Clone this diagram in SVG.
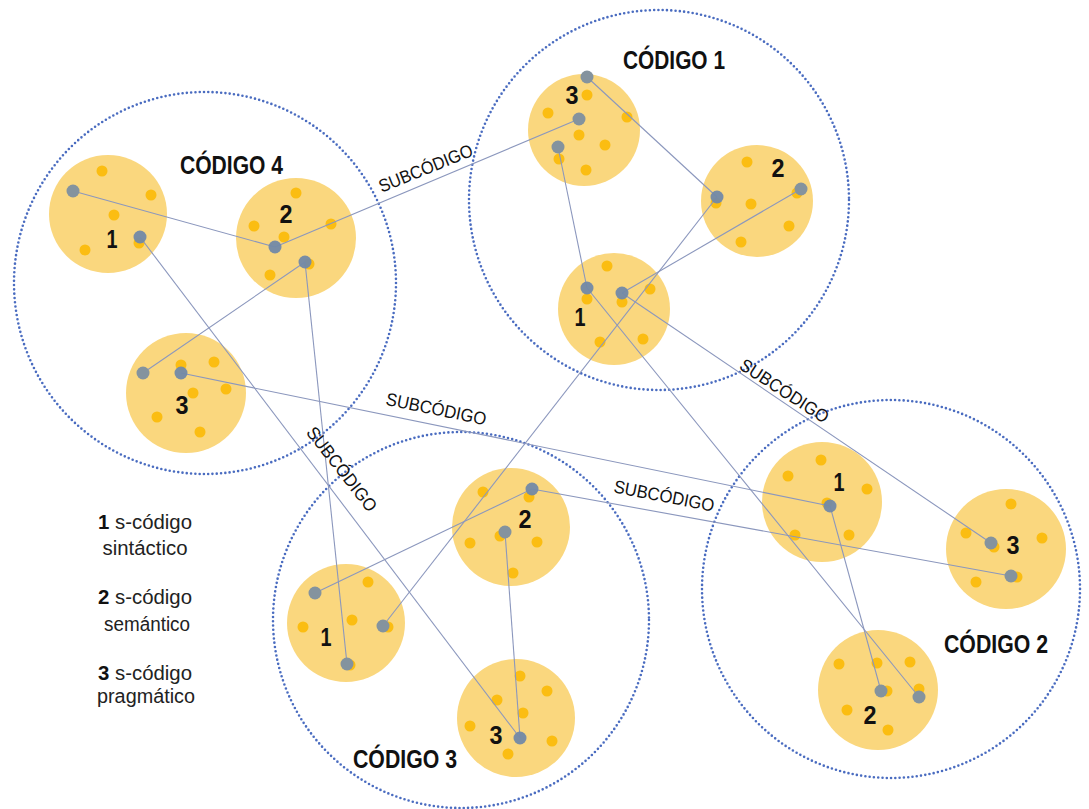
<svg xmlns="http://www.w3.org/2000/svg" width="1089" height="809" viewBox="0 0 1089 809">
<style>
.code{fill:none;stroke:#4a6cc0;stroke-width:2.6;stroke-dasharray:0 4.3;stroke-linecap:round}
.blob{fill:#fad77e}
.y{fill:#fbbd12}
.g{fill:#7289a8;opacity:0.95}
.g2{fill:#84939e}
.ln{stroke:#8b97bd;stroke-width:1.1;fill:none}
.title{font-family:"Liberation Sans",Arial,sans-serif;font-weight:bold;font-size:25px;fill:#111}
.num{font-family:"Liberation Sans",Arial,sans-serif;font-weight:bold;font-size:26px;fill:#111;text-anchor:middle}
.sub{font-family:"Liberation Sans",Arial,sans-serif;font-size:18px;fill:#111;text-anchor:middle}
.leg{font-family:"Liberation Sans",Arial,sans-serif;font-size:20px;fill:#222;text-anchor:middle}
.legb{font-weight:bold;fill:#111}
</style>
<rect width="1089" height="809" fill="#fff"/>

<g id="codigo4">
<circle class="code" cx="205" cy="283" r="191"/>
<text class="title" x="180" y="174" textLength="103" lengthAdjust="spacingAndGlyphs">CÓDIGO 4</text>
<g id="c4-b1">
<circle class="blob" cx="108" cy="214" r="59"/>
<circle class="y" cx="102" cy="171" r="5.5"/><circle class="y" cx="151" cy="195" r="5.5"/><circle class="y" cx="114" cy="215" r="5.5"/><circle class="y" cx="85" cy="250" r="5.5"/><circle class="y" cx="139" cy="243" r="5.5"/>
<text class="num" x="112" y="248" textLength="11" lengthAdjust="spacingAndGlyphs">1</text>
</g>
<g id="c4-b2">
<circle class="blob" cx="296" cy="238" r="60"/>
<circle class="y" cx="296" cy="193" r="5.5"/><circle class="y" cx="254" cy="226" r="5.5"/><circle class="y" cx="331" cy="224" r="5.5"/><circle class="y" cx="284" cy="237" r="5.5"/><circle class="y" cx="270" cy="275" r="5.5"/><circle class="y" cx="309" cy="264" r="5.5"/>
<text class="num" x="286" y="223" textLength="13" lengthAdjust="spacingAndGlyphs">2</text>
</g>
<g id="c4-b3">
<circle class="blob" cx="186" cy="393" r="60"/>
<circle class="y" cx="214" cy="362" r="5.5"/><circle class="y" cx="181" cy="365" r="5.5"/><circle class="y" cx="226" cy="389" r="5.5"/><circle class="y" cx="193" cy="393" r="5.5"/><circle class="y" cx="157" cy="417" r="5.5"/><circle class="y" cx="200" cy="432" r="5.5"/>
<text class="num" x="182" y="414" textLength="13" lengthAdjust="spacingAndGlyphs">3</text>
</g>
</g>

<g id="codigo1">
<circle class="code" cx="659" cy="200" r="190"/>
<text class="title" x="623" y="69" textLength="102" lengthAdjust="spacingAndGlyphs">CÓDIGO 1</text>
<g id="c1-b3">
<circle class="blob" cx="584" cy="130" r="56"/>
<circle class="y" cx="587" cy="95" r="5.5"/><circle class="y" cx="548" cy="113" r="5.5"/><circle class="y" cx="627" cy="117" r="5.5"/><circle class="y" cx="579" cy="135" r="5.5"/><circle class="y" cx="605" cy="145" r="5.5"/><circle class="y" cx="559" cy="159" r="5.5"/><circle class="y" cx="586" cy="170" r="5.5"/>
<text class="num" x="572" y="104" textLength="13" lengthAdjust="spacingAndGlyphs">3</text>
</g>
<g id="c1-b2">
<circle class="blob" cx="757" cy="201" r="56"/>
<circle class="y" cx="747" cy="162" r="5.5"/><circle class="y" cx="716" cy="203" r="5.5"/><circle class="y" cx="751" cy="204" r="5.5"/><circle class="y" cx="797" cy="193" r="5.5"/><circle class="y" cx="789" cy="226" r="5.5"/><circle class="y" cx="741" cy="242" r="5.5"/>
<text class="num" x="778" y="177" textLength="13" lengthAdjust="spacingAndGlyphs">2</text>
</g>
<g id="c1-b1">
<circle class="blob" cx="614" cy="309" r="56"/>
<circle class="y" cx="607" cy="266" r="5.5"/><circle class="y" cx="650" cy="289" r="5.5"/><circle class="y" cx="587" cy="299" r="5.5"/><circle class="y" cx="622" cy="302" r="5.5"/><circle class="y" cx="600" cy="342" r="5.5"/><circle class="y" cx="643" cy="339" r="5.5"/>
<text class="num" x="580" y="326" textLength="11" lengthAdjust="spacingAndGlyphs">1</text>
</g>
</g>

<g id="codigo3">
<circle class="code" cx="461" cy="620" r="188"/>
<text class="title" x="353" y="768" textLength="104" lengthAdjust="spacingAndGlyphs">CÓDIGO 3</text>
<g id="c3-b2">
<circle class="blob" cx="511" cy="527" r="59"/>
<circle class="y" cx="483" cy="492" r="5.5"/><circle class="y" cx="529" cy="497" r="5.5"/><circle class="y" cx="470" cy="543" r="5.5"/><circle class="y" cx="500" cy="536" r="5.5"/><circle class="y" cx="537" cy="542" r="5.5"/><circle class="y" cx="513" cy="573" r="5.5"/>
<text class="num" x="525" y="528" textLength="13" lengthAdjust="spacingAndGlyphs">2</text>
</g>
<g id="c3-b1">
<circle class="blob" cx="346" cy="623" r="59"/>
<circle class="y" cx="368" cy="582" r="5.5"/><circle class="y" cx="303" cy="627" r="5.5"/><circle class="y" cx="352" cy="620" r="5.5"/><circle class="y" cx="388" cy="627" r="5.5"/><circle class="y" cx="350" cy="665" r="5.5"/>
<text class="num" x="326" y="646" textLength="11" lengthAdjust="spacingAndGlyphs">1</text>
</g>
<g id="c3-b3">
<circle class="blob" cx="516" cy="718" r="59"/>
<circle class="y" cx="520" cy="676" r="5.5"/><circle class="y" cx="547" cy="691" r="5.5"/><circle class="y" cx="497" cy="700" r="5.5"/><circle class="y" cx="523" cy="713" r="5.5"/><circle class="y" cx="470" cy="726" r="5.5"/><circle class="y" cx="552" cy="741" r="5.5"/><circle class="y" cx="508" cy="754" r="5.5"/>
<text class="num" x="496" y="744" textLength="13" lengthAdjust="spacingAndGlyphs">3</text>
</g>
</g>

<g id="codigo2">
<circle class="code" cx="891" cy="589" r="189"/>
<text class="title" x="944" y="653" textLength="104" lengthAdjust="spacingAndGlyphs">CÓDIGO 2</text>
<g id="c2-b1">
<circle class="blob" cx="822" cy="502" r="60"/>
<circle class="y" cx="821" cy="460" r="5.5"/><circle class="y" cx="788" cy="476" r="5.5"/><circle class="y" cx="867" cy="489" r="5.5"/><circle class="y" cx="827" cy="503" r="5.5"/><circle class="y" cx="795" cy="535" r="5.5"/><circle class="y" cx="849" cy="535" r="5.5"/>
<text class="num" x="839" y="491" textLength="11" lengthAdjust="spacingAndGlyphs">1</text>
</g>
<g id="c2-b3">
<circle class="blob" cx="1006" cy="549" r="60"/>
<circle class="y" cx="1011" cy="504" r="5.5"/><circle class="y" cx="966" cy="533" r="5.5"/><circle class="y" cx="994" cy="547" r="5.5"/><circle class="y" cx="1042" cy="538" r="5.5"/><circle class="y" cx="1017" cy="577" r="5.5"/><circle class="y" cx="976" cy="582" r="5.5"/>
<text class="num" x="1013" y="554" textLength="13" lengthAdjust="spacingAndGlyphs">3</text>
</g>
<g id="c2-b2">
<circle class="blob" cx="878" cy="690" r="60"/>
<circle class="y" cx="839" cy="664" r="5.5"/><circle class="y" cx="877" cy="663" r="5.5"/><circle class="y" cx="910" cy="662" r="5.5"/><circle class="y" cx="887" cy="691" r="5.5"/><circle class="y" cx="919" cy="689" r="5.5"/><circle class="y" cx="847" cy="710" r="5.5"/><circle class="y" cx="888" cy="730" r="5.5"/>
<text class="num" x="870" y="724" textLength="13" lengthAdjust="spacingAndGlyphs">2</text>
</g>
</g>

<g id="connectors">
<line class="ln" x1="73" y1="191" x2="275" y2="247"/>
<line class="ln" x1="275" y1="247" x2="579" y2="119"/>
<line class="ln" x1="140" y1="237" x2="520" y2="738"/>
<line class="ln" x1="305" y1="262" x2="143" y2="373"/>
<line class="ln" x1="305" y1="262" x2="347" y2="664"/>
<line class="ln" x1="181" y1="373" x2="830" y2="506"/>
<line class="ln" x1="587" y1="77" x2="717" y2="197"/>
<line class="ln" x1="558" y1="147" x2="587" y2="288"/>
<line class="ln" x1="801" y1="189" x2="622" y2="293"/>
<line class="ln" x1="717" y1="197" x2="383" y2="626"/>
<line class="ln" x1="587" y1="288" x2="919" y2="697"/>
<line class="ln" x1="622" y1="293" x2="991" y2="543"/>
<line class="ln" x1="532" y1="489" x2="315" y2="593"/>
<line class="ln" x1="505" y1="532" x2="520" y2="738"/>
<line class="ln" x1="532" y1="489" x2="1011" y2="576"/>
<line class="ln" x1="830" y1="506" x2="881" y2="691"/>
</g>

<g id="dots">
<circle class="g2" cx="73" cy="191" r="6.5"/><circle class="g" cx="140" cy="237" r="6.5"/>
<circle class="g" cx="275" cy="247" r="6.5"/><circle class="g" cx="305" cy="262" r="6.5"/>
<circle class="g2" cx="143" cy="373" r="6.5"/><circle class="g" cx="181" cy="373" r="6.5"/>
<circle class="g2" cx="587" cy="77" r="6.5"/><circle class="g2" cx="579" cy="119" r="6.5"/><circle class="g2" cx="558" cy="147" r="6.5"/>
<circle class="g" cx="717" cy="197" r="6.5"/><circle class="g2" cx="801" cy="189" r="6.5"/>
<circle class="g" cx="587" cy="288" r="6.5"/><circle class="g" cx="622" cy="293" r="6.5"/>
<circle class="g" cx="532" cy="489" r="6.5"/><circle class="g2" cx="505" cy="532" r="6.5"/>
<circle class="g2" cx="315" cy="593" r="6.5"/><circle class="g2" cx="383" cy="626" r="6.5"/><circle class="g2" cx="347" cy="664" r="6.5"/>
<circle class="g" cx="520" cy="738" r="6.5"/>
<circle class="g" cx="830" cy="506" r="6.5"/>
<circle class="g2" cx="991" cy="543" r="6.5"/><circle class="g2" cx="1011" cy="576" r="6.5"/>
<circle class="g2" cx="881" cy="691" r="6.5"/><circle class="g2" cx="919" cy="697" r="6.5"/>
</g>

<g id="subcodigo-labels">
<text class="sub" transform="translate(428,174) rotate(-22)" textLength="100" lengthAdjust="spacingAndGlyphs">SUBCÓDIGO</text>
<text class="sub" transform="translate(435,415) rotate(11.6)" textLength="102" lengthAdjust="spacingAndGlyphs">SUBCÓDIGO</text>
<text class="sub" transform="translate(337,473) rotate(52)" textLength="102" lengthAdjust="spacingAndGlyphs">SUBCÓDIGO</text>
<text class="sub" transform="translate(781,396) rotate(33)" textLength="102" lengthAdjust="spacingAndGlyphs">SUBCÓDIGO</text>
<text class="sub" transform="translate(663,502) rotate(11)" textLength="102" lengthAdjust="spacingAndGlyphs">SUBCÓDIGO</text>
</g>

<g id="legend">
<text class="leg" x="145" y="529" textLength="94" lengthAdjust="spacingAndGlyphs"><tspan class="legb">1</tspan> s-código</text>
<text class="leg" x="145" y="555" textLength="85" lengthAdjust="spacingAndGlyphs">sintáctico</text>
<text class="leg" x="145" y="604" textLength="94" lengthAdjust="spacingAndGlyphs"><tspan class="legb">2</tspan> s-código</text>
<text class="leg" x="147" y="631" textLength="86" lengthAdjust="spacingAndGlyphs">semántico</text>
<text class="leg" x="145" y="680" textLength="94" lengthAdjust="spacingAndGlyphs"><tspan class="legb">3</tspan> s-código</text>
<text class="leg" x="146" y="703" textLength="98" lengthAdjust="spacingAndGlyphs">pragmático</text>
</g>
</svg>
